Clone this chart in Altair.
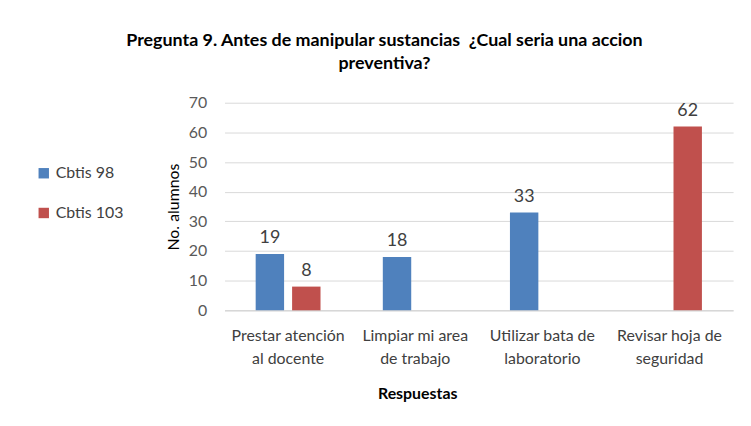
import altair as alt
import pandas as pd

categories = ["Prestar atención|al docente", "Limpiar mi area|de trabajo",
              "Utilizar bata de|laboratorio", "Revisar hoja de|seguridad"]
series = ["Cbtis 98", "Cbtis 103"]
cbtis98 = [19, 18, 33, None]
cbtis103 = [8, None, None, 62]
colors = ["#4f81bd", "#c0504d"]

rows = []
for i, c in enumerate(categories):
    for s, vals in zip(series, [cbtis98, cbtis103]):
        if vals[i] is not None:
            rows.append({"cat": c, "serie": s, "val": vals[i]})
df = pd.DataFrame(rows)

FONT = "Lato"

base = alt.Chart(df).encode(
    x=alt.X("cat:N", sort=categories,
            scale=alt.Scale(paddingInner=0.49, paddingOuter=0.245),
            axis=alt.Axis(title="Respuestas", labelAngle=0,
                          labelExpr="split(datum.label, '|')",
                          labelFontSize=16, labelColor="#404040", labelFont=FONT,
                          labelLineHeight=24, labelPadding=17, ticks=False,
                          domainColor="#d0d0d0", titleFontSize=16, titleFont=FONT,
                          titleFontWeight="bold", titleColor="#000000",
                          titlePadding=19, titleX=194)),
    xOffset=alt.XOffset("serie:N", sort=series,
                        scale=alt.Scale(domain=series, paddingInner=0.22)),
    y=alt.Y("val:Q", scale=alt.Scale(domain=[0, 70]),
            axis=alt.Axis(title="No. alumnos", values=list(range(0, 71, 10)),
                          labelOverlap=False,
                          grid=True, gridColor="#d9d9d9", domain=False, ticks=False,
                          labelFontSize=16, labelColor="#595959", labelFont=FONT,
                          labelPadding=18, titleFontSize=16, titleFont=FONT,
                          titleFontWeight="normal", titleColor="#000000",
                          titlePadding=7)),
)

bars = base.mark_bar().encode(
    color=alt.Color("serie:N", sort=series,
                    scale=alt.Scale(domain=series, range=colors),
                    legend=alt.Legend(title=None, orient="none", legendX=-190,
                                      legendY=63, symbolType="square",
                                      symbolSize=110, labelFontSize=16,
                                      labelFont=FONT, labelColor="#404040",
                                      rowPadding=24, symbolStrokeWidth=0)),
)

labels = base.mark_text(dy=-16, fontSize=18, font=FONT, color="#404040",
                        baseline="middle").encode(text="val:Q")

chart = (bars + labels).properties(
    width=512, height=209,
    padding={"left": 28, "top": 23, "right": 10, "bottom": 10},
    title=alt.Title(["Pregunta 9. Antes de manipular sustancias \u00a0¿Cual seria una accion",
                     "preventiva?"],
                    font=FONT, fontSize=18, fontWeight="bold", color="#000000",
                    lineHeight=23, anchor="middle", frame="bounds", offset=22),
).configure_view(stroke=None)

chart.save("out.html", embed_options={"renderer": "svg", "actions": False})
